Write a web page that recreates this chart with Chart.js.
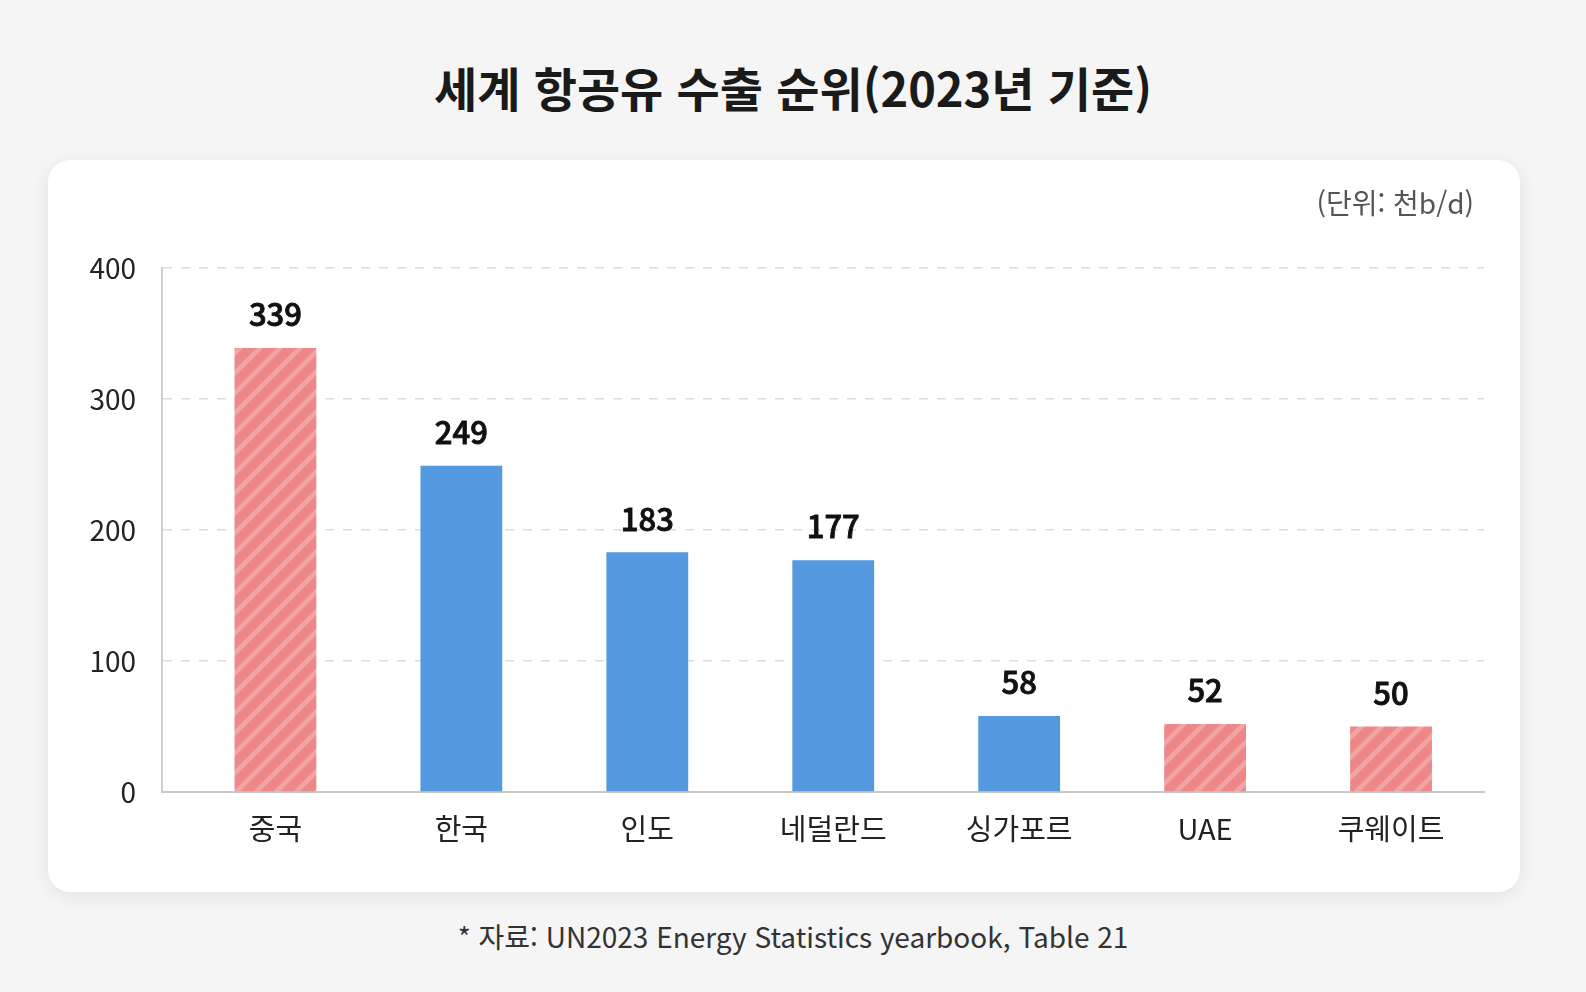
<!DOCTYPE html>
<html lang="ko">
<head>
<meta charset="utf-8">
<title>세계 항공유 수출 순위</title>
<script src="https://cdn.jsdelivr.net/npm/chart.js@4.4.1/dist/chart.umd.min.js"></script>
<style>
  html, body {
    margin: 0;
    padding: 0;
    background: #f5f5f5;
    font-family: "Noto Sans CJK KR", "Noto Sans", sans-serif;
    overflow: hidden;
  }
  .page {
    position: relative;
    width: 1586px;
    height: 992px;
  }
  h1 {
    position: absolute;
    left: 0;
    right: 0;
    top: 54px;
    margin: 0;
    text-align: center;
    font-size: 47px;
    font-weight: 700;
    color: #1a1a1a;
    line-height: 66px;
  }
  .card {
    position: absolute;
    left: 48px;
    top: 160px;
    width: 1472px;
    height: 732px;
    background: #fff;
    border-radius: 22px;
    box-shadow: 0 4px 18px rgba(0, 0, 0, 0.08);
  }
  .unit {
    position: absolute;
    right: 46px;
    top: 22px;
    font-size: 28px;
    color: #555;
  }
  .note {
    position: absolute;
    left: 0;
    right: 0;
    top: 916px;
    text-align: center;
    font-size: 28px;
    color: #333;
  }
</style>
</head>
<body>
<div class="page">
  <h1>세계 항공유 수출 순위(2023년 기준)</h1>
  <div class="card">
    <div class="unit">(단위: 천b/d)</div>
    <canvas id="exportChart" width="1472" height="732"></canvas>
  </div>
  <div class="note">* 자료: UN2023 Energy Statistics yearbook, Table 21</div>
</div>
<script>
const countries = ['중국', '한국', '인도', '네덜란드', '싱가포르', 'UAE', '쿠웨이트']
const exports = [339, 249, 183, 177, 58, 52, 50]
const highlighted = [true, false, false, false, false, true, true]
const yTicks = [0, 100, 200, 300, 400]

const FONT = '"Noto Sans CJK KR", "Noto Sans", sans-serif'

// 빨간 막대용 사선 패턴
function stripePattern() {
  const c = document.createElement('canvas')
  c.width = 20
  c.height = 20
  const g = c.getContext('2d')
  g.fillStyle = '#ee8787'
  g.fillRect(0, 0, 20, 20)
  g.strokeStyle = 'rgba(255, 255, 255, 0.25)'
  g.lineWidth = 4.5
  g.beginPath()
  for (let k = -20; k <= 40; k += 20) {
    g.moveTo(k - 10, 30)
    g.lineTo(k + 30, -10)
  }
  g.stroke()
  return g.createPattern(c, 'repeat')
}

const ctx = document.getElementById('exportChart').getContext('2d')
const red = stripePattern()
const blue = '#5599e1'

// 막대 위 값 표시 (약간 두껍게)
const valueLabels = {
  id: 'valueLabels',
  afterDatasetsDraw(chart) {
    const c = chart.ctx
    const meta = chart.getDatasetMeta(0)
    c.save()
    c.font = '500 31px ' + FONT
    c.fillStyle = '#111'
    c.strokeStyle = '#111'
    c.lineWidth = 0.9
    c.textAlign = 'center'
    c.textBaseline = 'bottom'
    meta.data.forEach((bar, i) => {
      c.fillText(String(exports[i]), bar.x, bar.y - 18)
      c.strokeText(String(exports[i]), bar.x, bar.y - 18)
    })
    c.restore()
  }
}

new Chart(ctx, {
  type: 'bar',
  data: {
    datasets: [{
      data: exports.map((v, i) => ({ x: i, y: v })),
      backgroundColor: highlighted.map(h => h ? red : blue),
      borderWidth: 0,
      barPercentage: 0.44,
      categoryPercentage: 1
    }]
  },
  plugins: [valueLabels],
  options: {
    responsive: false,
    animation: false,
    devicePixelRatio: 1,
    layout: {
      padding: { top: 108, right: 36, bottom: 0, left: 0 }
    },
    plugins: {
      legend: { display: false },
      tooltip: { enabled: false }
    },
    scales: {
      x: {
        type: 'linear',
        offset: false,
        min: -0.61,
        max: 6.5,
        afterFit(scale) { scale.height = 100 },
        afterBuildTicks(scale) {
          scale.ticks = countries.map((_, i) => ({ value: i }))
        },
        grid: { display: false, drawTicks: false, offset: false },
        border: { display: true, color: '#c8c8c8', width: 2 },
        ticks: {
          padding: 20,
          color: '#222',
          font: { size: 29, family: FONT },
          callback: value => countries[value] ?? ''
        }
      },
      y: {
        min: 0,
        max: 400,
        afterFit(scale) { scale.width = 114 },
        afterBuildTicks(scale) {
          scale.ticks = yTicks.map(v => ({ value: v }))
        },
        grid: {
          color: c => c.tick && c.tick.value === 0 ? 'rgba(0,0,0,0)' : '#dcdcdc',
          lineWidth: 1.5,
          drawTicks: false
        },
        border: { display: true, color: '#d0d0d0', width: 2, dash: [9, 9] },
        ticks: {
          padding: 26,
          color: '#222',
          font: { size: 28, family: FONT }
        }
      }
    }
  }
})
</script>
</body>
</html>
